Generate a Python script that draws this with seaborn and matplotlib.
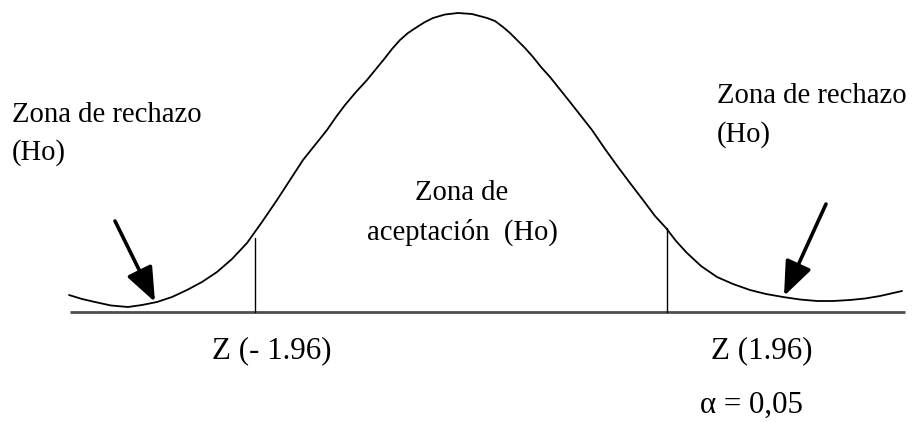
import pandas as pd
import matplotlib
matplotlib.use("Agg")
import matplotlib.pyplot as plt
import seaborn as sns

# curve: position across and height above the baseline
x_vals = [69, 82, 95, 111, 128, 142, 157, 172, 187, 202, 217, 232, 247, 262,
          277, 290, 303, 315, 327, 336, 345, 356, 367, 376, 385, 392, 400, 408,
          417, 425, 433, 445, 458, 472, 487, 495, 503, 510, 517, 525, 533, 541,
          550, 560, 570, 581, 592, 605, 618, 630, 643, 655, 666, 676, 687, 701,
          717, 733, 750, 766, 783, 800, 817, 833, 850, 865, 880, 891, 902]
h_vals = [17, 13, 10, 6.5, 5, 7, 10, 15, 22, 30, 40, 53, 69, 90,
          112, 132, 152, 167, 182, 195, 207, 220, 232, 243, 254, 263, 272, 279,
          285, 290, 294, 297.5, 299, 298, 294, 291, 285, 279, 272, 264, 255, 245,
          235, 222.5, 210, 196, 182, 163, 145, 129, 112, 96, 84, 71, 59, 46,
          35, 28, 22, 18, 15, 12.5, 11, 11, 12, 13.5, 16, 18.5, 21]

# critical values: position and height of their marker lines
crit_x = [255, 667]
crit_top = [74, 84]
crit_labels = ["Z (- 1.96)", "Z (1.96)"]
alpha_label = "α = 0,05"

reject_lines = ["Zona de rechazo", "(Ho)"]
accept_lines = ["Zona de", "aceptación  (Ho)"]

df = pd.DataFrame({"x": x_vals, "h": h_vals})

sns.set_style("white")
plt.rcParams["font.family"] = ["Liberation Serif", "DejaVu Serif"]
plt.rcParams["text.color"] = "black"

fig = plt.figure(figsize=(9.13, 4.22), dpi=100)
ax = fig.add_axes([0, 0, 1, 1])
ax.set_xlim(0, 913)
ax.set_ylim(-110, 312)
ax.axis("off")

# baseline
ax.plot([70, 905], [0, 0], color="#4d4d4d", lw=2.0, solid_capstyle="butt")

# curve
sns.lineplot(data=df, x="x", y="h", ax=ax, color="black", lw=1.3, sort=False)

# critical value lines
for xc, top in zip(crit_x, crit_top):
    ax.plot([xc, xc], [0, top], color="black", lw=1.0)

# arrows pointing at the tails
arrow_kw = dict(arrowstyle="-|>,head_length=1.5,head_width=0.6",
                color="black", lw=2.6, shrinkA=0, shrinkB=0, mutation_scale=14)
ax.annotate("", xy=(155, 10), xytext=(115, 91), arrowprops=arrow_kw)
ax.annotate("", xy=(784, 16), xytext=(826, 108), arrowprops=arrow_kw)

fs_top = 20.6
fs_bot = 22.3
for line, y in zip(reject_lines, [190, 152]):
    ax.text(12, y, line, fontsize=fs_top, ha="left", va="baseline", color="black")
for line, y in zip(reject_lines, [209, 170]):
    ax.text(717, y, line, fontsize=fs_top, ha="left", va="baseline", color="black")
for line, y in zip(accept_lines, [112, 72]):
    ax.text(462, y, line, fontsize=fs_top, ha="center", va="baseline", color="black")

ax.text(212, -46, crit_labels[0], fontsize=fs_bot, ha="left", va="baseline", color="black")
ax.text(711, -46, crit_labels[1], fontsize=fs_bot, ha="left", va="baseline", color="black")
ax.text(700, -101, alpha_label, fontsize=fs_bot, ha="left", va="baseline", color="black")

fig.savefig("out.png", dpi=100)
